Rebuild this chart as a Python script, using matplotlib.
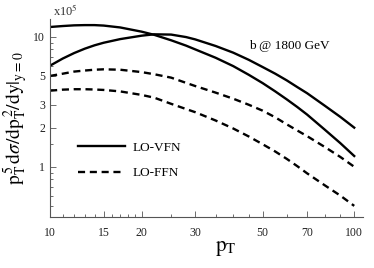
import numpy as np
import matplotlib
matplotlib.use("Agg")
import matplotlib.pyplot as plt
from matplotlib.ticker import FixedLocator, NullFormatter

plt.rcParams['font.family'] = ['Liberation Serif', 'DejaVu Serif']
plt.rcParams['mathtext.fontset'] = 'stix'

pt = [10, 11, 12, 13, 14, 15, 17, 20, 22, 25, 28, 30, 35, 40, 45, 50, 55, 60, 65, 70, 80, 90, 100]

# values in units of 1e5
vfn_a = [11.9, 12.1, 12.25, 12.3, 12.3, 12.2, 11.8, 10.95, 10.35, 9.4, 8.55, 8.0, 6.9,
         5.95, 5.1, 4.4, 3.8, 3.3, 2.88, 2.52, 1.93, 1.52, 1.21]
vfn_b = [6.0, 6.8, 7.5, 8.1, 8.6, 9.0, 9.6, 10.2, 10.45, 10.4, 9.95, 9.55, 8.5,
         7.55, 6.65, 5.85, 5.2, 4.62, 4.1, 3.68, 2.95, 2.42, 2.0]
ffn_a = [5.0, 5.2, 5.4, 5.5, 5.58, 5.62, 5.58, 5.35, 5.15, 4.85, 4.42, 4.18, 3.72,
         3.34, 3.0, 2.7, 2.4, 2.12, 1.9, 1.72, 1.42, 1.19, 1.0]
ffn_b = [3.85, 3.92, 3.95, 3.95, 3.93, 3.9, 3.8, 3.57, 3.4, 3.05, 2.78, 2.63, 2.27,
         1.97, 1.71, 1.49, 1.31, 1.15, 1.01, 0.89, 0.72, 0.6, 0.5]

xticks = [10, 15, 20, 30, 50, 70, 100]
yticks = [1, 2, 3, 5, 10]

fig = plt.figure(figsize=(3.74, 2.68), dpi=100)
ax = fig.add_axes([0.134, 0.19, 0.837, 0.739])

dash = (0, (3.0, 2.0))
ax.plot(pt, vfn_a, color='black', lw=1.7, label='LO-VFN')
ax.plot(pt, vfn_b, color='black', lw=1.7)
ax.plot(pt, ffn_a, color='black', lw=1.7, linestyle=dash, label='LO-FFN')
ax.plot(pt, ffn_b, color='black', lw=1.7, linestyle=dash)

ax.set_xscale('log')
ax.set_yscale('log')
ax.set_xlim(10, 107)
ax.set_ylim(0.41, 13.7)

ax.xaxis.set_major_locator(FixedLocator(xticks))
ax.set_xticklabels([str(t) for t in xticks])
ax.xaxis.set_minor_locator(FixedLocator([11, 12, 13, 14, 16, 17, 18, 19, 25, 35, 40, 45, 60, 80, 90]))
ax.xaxis.set_minor_formatter(NullFormatter())
ax.yaxis.set_major_locator(FixedLocator(yticks))
ax.set_yticklabels([str(t) for t in yticks])
ax.yaxis.set_minor_locator(FixedLocator([0.5, 0.6, 0.7, 0.8, 0.9, 1.5, 4, 6, 7, 8, 9]))
ax.yaxis.set_minor_formatter(NullFormatter())

ax.tick_params(which='both', direction='in', labelsize=8.5, color='#555555', width=0.6,
               labelcolor='#222222')
ax.tick_params(which='major', length=4)
ax.tick_params(which='minor', length=2)
ax.tick_params(axis='x', pad=7)

for s in ['top', 'right']:
    ax.spines[s].set_visible(False)
for s in ['left', 'bottom']:
    ax.spines[s].set_color('#555555')
    ax.spines[s].set_linewidth(0.8)

ax.set_xlabel(r'$\mathrm{p}_\mathrm{T}$', fontsize=15)
ax.xaxis.set_label_coords(0.56, -0.11)
ax.set_ylabel(r'$\mathrm{p}_\mathrm{T}^{\,5}\,\mathrm{d}\sigma/\mathrm{dp}_\mathrm{T}^{\,2}/\mathrm{dy}|_{\mathrm{y=0}}$', fontsize=14)
ax.yaxis.set_label_coords(-0.065, 0.5)

ax.text(0.01, 1.0, r'x10$^5$', transform=ax.transAxes, fontsize=9, ha='left', va='bottom', color='#333333')
ax.text(0.635, 0.865, 'b @ 1800 GeV', transform=ax.transAxes, fontsize=9.5, ha='left', va='center')

ax.legend(loc='upper left', bbox_to_anchor=(0.05, 0.44), frameon=False, fontsize=9.5,
          handlelength=3.6, handletextpad=0.6, labelspacing=1.0)

fig.savefig('out.png', dpi=100)
